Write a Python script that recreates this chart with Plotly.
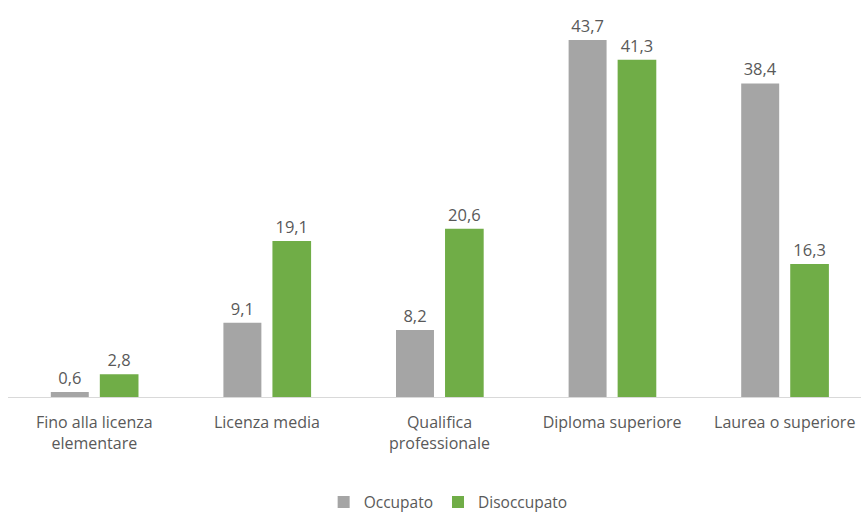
import plotly.graph_objects as go

categories = ["Fino alla licenza<br>elementare", "Licenza media",
              "Qualifica<br>professionale", "Diploma superiore",
              "Laurea o superiore"]
occupato = [0.6, 9.1, 8.2, 43.7, 38.4]
disoccupato = [2.8, 19.1, 20.6, 41.3, 16.3]

def fmt(v):
    return f"{v:.1f}".replace(".", ",")

FONT = "Open Sans, sans-serif"
TXT = "#595959"

fig = go.Figure()
fig.add_trace(go.Bar(
    x=categories, y=occupato, name="Occupato",
    marker=dict(color="#A5A5A5", line=dict(width=0)),
    width=0.22, offset=-0.252,
    text=[fmt(v) for v in occupato], textposition="outside",
    textfont=dict(size=16.5, color=TXT, family=FONT), cliponaxis=False,
))
fig.add_trace(go.Bar(
    x=categories, y=disoccupato, name="Disoccupato",
    marker=dict(color="#70AD47", line=dict(width=0)),
    width=0.224, offset=0.032,
    text=[fmt(v) for v in disoccupato], textposition="outside",
    textfont=dict(size=16.5, color=TXT, family=FONT), cliponaxis=False,
))

fig.update_layout(
    width=861, height=517,
    margin=dict(l=8, r=0, t=5, b=120, autoexpand=False),
    paper_bgcolor="white", plot_bgcolor="white",
    font=dict(family=FONT, size=16, color=TXT),
    barmode="group",
    showlegend=True,
    legend=dict(orientation="h", x=0.516, xanchor="center",
                yref="container", y=0.028, yanchor="middle",
                font=dict(size=15.5, color=TXT, family=FONT),
                itemwidth=30, traceorder="normal"),
    xaxis=dict(range=[-0.5, 4.442], showgrid=False, showline=True,
               linecolor="#D9D9D9", linewidth=1, ticks="", automargin=False,
               ticklabelstandoff=11, tickfont=dict(size=16, color=TXT)),
    yaxis=dict(range=[0, 48], visible=False, showgrid=False, zeroline=False,
               automargin=False),
)

fig.write_html("out.html")
